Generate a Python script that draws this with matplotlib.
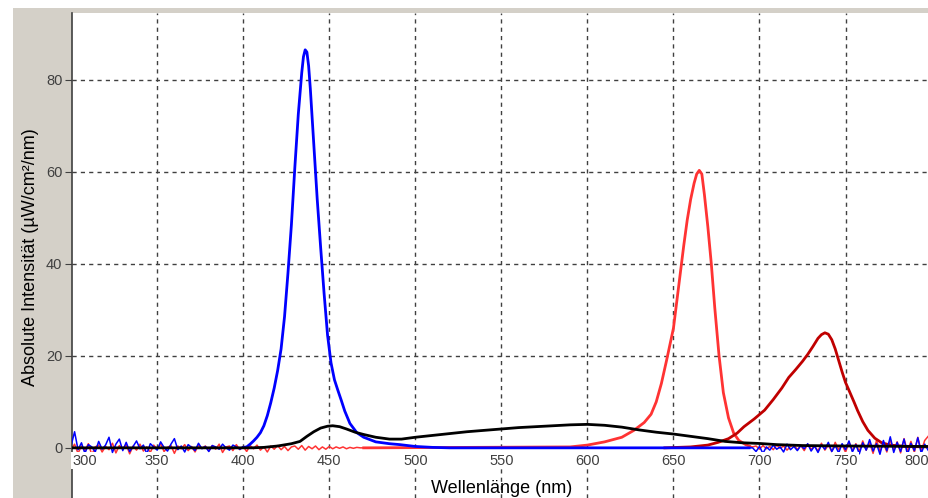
import numpy as np
import matplotlib
matplotlib.use('Agg')
import matplotlib.pyplot as plt
from matplotlib.patches import Rectangle

plt.rcParams['font.family'] = ['Liberation Sans', 'DejaVu Sans']

# wavelength ticks / intensity ticks
xticks = [300, 350, 400, 450, 500, 550, 600, 650, 700, 750, 800]
yticks = [0, 20, 40, 60, 80]

# blue LED
blue_x = [402, 404, 406, 408, 410, 412, 414, 416, 418, 420, 422, 424, 426, 428, 430, 432, 434,
          435, 436, 437, 438, 439, 441, 443, 445, 447, 449, 451, 453, 455, 457, 459, 462, 466, 470,
          477, 485, 491, 500, 510, 520, 560, 600, 640, 680, 694]
blue_y = [0.2, 0.8, 1.5, 2.3, 3.3, 4.8, 7.0, 9.8, 13.0, 16.8, 21.5, 28.5, 38, 48.5, 61, 72.5, 81.5,
          85, 86.5, 86, 83, 78, 66, 54, 43.5, 33.5, 24.5, 18.5, 14.8, 12.5, 10.3, 8, 5.3, 3.3, 2.3,
          1.3, 0.9, 0.7, 0.3, 0.1, 0, 0, 0, 0, 0, 0]
blue_noise_left = [0.5, 3.5, -0.4, 1.1, -1.2, 0.7, 0.2, -0.9, 1.4, -0.3, 0.6, 2.3, -1.0, 0.8, 1.9, -0.6, 1.2, -0.8, 0.3, 1.5,
                   -0.2, 0.6, -1.3, 0.9, 0.2, -0.5, 1.3, 0.1, -0.7, 0.8, 2.0, -0.4, 0.4, -0.9, 0.7, 0.1, -0.6, 1.0, -0.2, 0.3,
                   -0.8, 0.5, 0.2, -0.3, 0.8, 0.0, -0.5, 0.6, 0.2, -0.3, 0.1]
blue_noise_right = [0.0, -0.8, 0.3, -1.2, 0.2, -0.5, 0.6, -0.3, 0.2, -0.9, 0.8, -0.4, 0.3, -0.6, 0.5, -0.2, 0.9, -0.7, 0.4, -1.0,
                    0.6, -0.3, 1.2, -0.8, 0.5, -1.1, 0.9, -0.4, 1.5, -0.9, 0.7, -1.3, 1.1, -0.5, 1.8, -0.7, 0.9, -1.4, 1.6, -0.6,
                    2.4, -1.0, 1.2, -0.8, 1.9, -1.5, 1.0, -0.6, 2.2, -1.2, 0.8, -0.5]

# red LED
red_x = [472, 590, 600, 610, 620, 627, 633, 637, 640, 643, 646, 648, 650, 652, 654, 656, 658, 660,
         662, 663.5, 665, 666.5, 668, 670, 672, 674, 676.5, 679, 682, 685, 688, 692, 694]
red_y = [0, 0.2, 0.6, 1.3, 2.3, 3.8, 5.5, 7.3, 10.0, 14.0, 19, 22.5, 26, 32, 38, 44, 49.5, 54,
         57.5, 59.5, 60.3, 59.5, 55, 48, 40, 30.5, 20, 12, 6.5, 3.2, 1.6, 0.7, 0.4]
red_noise_left = [-0.3, 0.8, -1.2, 0.4, -0.6, 0.9, -1.5, 0.2, 0.6, -0.9, 0.3, -0.4, 1.0, -1.1, 0.5, -0.2, 0.7, -1.3, 0.4, -0.5,
                  0.8, -0.7, 0.2, -1.0, 0.6, -0.3, 0.9, -0.8, 0.1, 0.5, -1.2, 0.4, -0.2, 0.7, -0.6, 0.3, -0.9, 0.6, -0.1, 0.4,
                  -0.7, 0.5, -0.3, 0.8, -1.0, 0.2, 0.4, -0.6, 0.7, -0.4, 0.3, -0.8, 0.5, -0.2, 0.6, -0.5, 0.2, -0.9, 0.4, -0.3,
                  0.5, -0.4, 0.3, -0.6, 0.2, 0.4, -0.3, 0.5, -0.5, 0.3, -0.2, 0.4, -0.4, 0.2, -0.3, 0.3, -0.2, 0.2, -0.1, 0.2,
                  -0.2, 0.1, -0.1, 0.1, 0.0, 0.0]
red_noise_right = [0.2, 0.4, -0.3, 0.5, -0.2, 0.3, -0.4, 0.6, -0.1, 0.4, -0.5, 0.3, 0.7, -0.4, 0.5, -0.6, 0.8, -0.3, 0.4, -0.7,
                   1.0, -0.5, 0.6, -0.8, 1.2, -0.4, 0.7, -1.0, 1.3, -0.6, 0.9, -0.8, 1.5, -0.5, 1.1, -1.2, 1.6, -0.7, 1.0, -0.9,
                   1.8, -0.6, 1.3, -1.1, 2.0, -0.8, 1.4, -1.0, 2.3, -0.7, 1.6, 2.5]

# far-red LED
darkred_x = [645, 660, 670, 676, 682, 687, 691, 697, 703, 708, 713, 717, 721, 725, 728, 731, 734,
             736, 738, 740, 742, 744, 746, 748, 750, 752, 755, 757, 760, 763, 767, 771, 776, 785, 798]
darkred_y = [0, 0.2, 0.6, 1.2, 2, 3.2, 4.6, 6.3, 8.2, 10.5, 13, 15.3, 17, 18.8, 20.3, 22, 23.8,
             24.6, 25, 24.7, 23.5, 21.5, 19, 16.5, 14.2, 12.5, 9.9, 8.1, 5.7, 3.8, 2.1, 1.1, 0.6, 0.3, 0.2]

# white LED
black_x = [300, 405, 412, 420, 428, 433, 437, 441, 445, 449, 452, 456, 460, 465, 470, 477, 485, 492,
           500, 510, 520, 530, 540, 550, 560, 570, 580, 590, 600, 610, 620, 630, 640, 650, 660, 670,
           680, 690, 700, 710, 725, 750, 798]
black_y = [0, 0, 0.1, 0.4, 0.9, 1.4, 2.5, 3.5, 4.3, 4.7, 4.8, 4.6, 4.1, 3.4, 2.9, 2.3, 1.9, 1.9,
           2.3, 2.7, 3.1, 3.5, 3.8, 4.1, 4.4, 4.6, 4.8, 5.0, 5.1, 4.9, 4.5, 3.9, 3.4, 3.0, 2.5, 2.0,
           1.4, 1.1, 0.95, 0.7, 0.5, 0.4, 0.3]

fig = plt.figure(figsize=(9.29, 4.98), dpi=100)
fig.patch.set_facecolor('white')
W, H = 929, 498
# gray window frame
fig.patches.append(Rectangle((13 / W, 0), (72 - 13) / W, (H - 8) / H, transform=fig.transFigure,
                             facecolor='#d4d0c8', edgecolor='none', zorder=-5))
fig.patches.append(Rectangle((13 / W, (H - 13) / H), (W - 13) / W, 5 / H, transform=fig.transFigure,
                             facecolor='#d4d0c8', edgecolor='none', zorder=-5))

ax = fig.add_axes([72 / W, 0, (W - 72) / W, (H - 13) / H])
ax.set_xlim(300.5, 798.5)
ax.set_ylim(-10.9, 94.5)

for s in ['top', 'right', 'bottom']:
    ax.spines[s].set_visible(False)
ax.spines['left'].set_color('#404040')
ax.spines['left'].set_linewidth(1.2)
ax.set_xticks([])
ax.set_yticks(yticks)
ax.tick_params(axis='y', direction='out', length=5, color='#404040', labelcolor='#404040',
               labelsize=10.5, pad=2)

gs = dict(color='#404040', lw=1.0, ls=(0, (3, 3)), zorder=1)
for v in xticks[1:-1]:
    ax.axvline(v, **gs)
for v in yticks[1:]:
    ax.axhline(v, **gs)

bx_l = 300 + 2 * np.arange(len(blue_noise_left))
bx_r = 696 + 2 * np.arange(len(blue_noise_right))
rx_l = 300 + 2 * np.arange(len(red_noise_left))
rx_r = 696 + 2 * np.arange(len(red_noise_right))

red_c = '#ff3333'
ax.plot(rx_l, red_noise_left, color=red_c, lw=1.1, zorder=2)
ax.plot(np.r_[rx_l[-1], red_x], np.r_[red_noise_left[-1], red_y], color=red_c, lw=2.0, zorder=2)
ax.plot(np.r_[red_x[-1], rx_r], np.r_[red_y[-1], red_noise_right], color=red_c, lw=1.1, zorder=2)
ax.plot(darkred_x, darkred_y, color='#c00000', lw=2.0, zorder=3)
ax.plot(bx_l, blue_noise_left, color='#0000ff', lw=1.1, zorder=4)
ax.plot(np.r_[bx_l[-1], blue_x], np.r_[blue_noise_left[-1], blue_y], color='#0000ff', lw=2.0, zorder=4)
ax.plot(np.r_[blue_x[-1], bx_r], np.r_[blue_y[-1], blue_noise_right], color='#0000ff', lw=1.1, zorder=4)
ax.plot(black_x, black_y, color='black', lw=2.0, zorder=5)

lab = dict(va='center', fontsize=10.5, color='#404040', zorder=6,
           bbox=dict(facecolor='white', edgecolor='none', pad=1.0))
for i, v in enumerate(xticks):
    if i == 0:
        ax.text(300.5, -2.8, str(v), ha='left', **lab)
    elif i == len(xticks) - 1:
        ax.text(798.5, -2.8, str(v), ha='right', **lab)
    else:
        ax.text(v, -2.8, str(v), ha='center', **lab)

fig.text(502 / W, 1 - 488 / H, 'Wellenlänge (nm)', ha='center', va='center', fontsize=13, color='black')
fig.text(31 / W, 1 - 257 / H, 'Absolute Intensität (µW/cm²/nm)', rotation=90, ha='center', va='center',
         fontsize=13, color='black')

fig.savefig('out.png', dpi=100)
